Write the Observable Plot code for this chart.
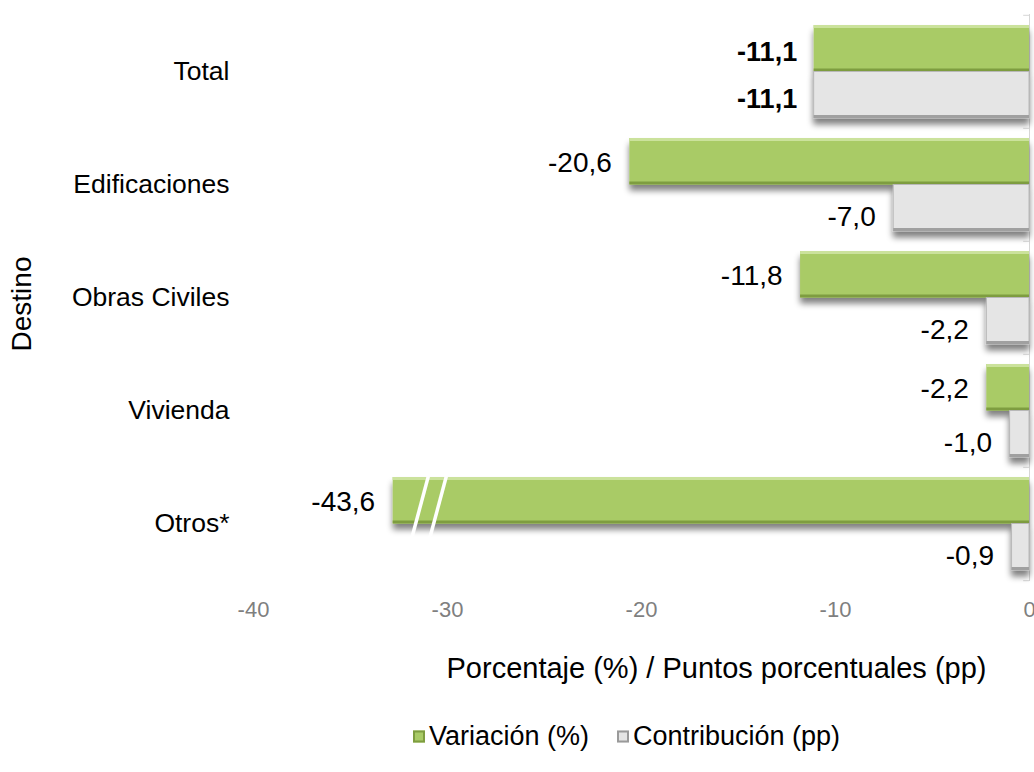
<!DOCTYPE html>
<html><head><meta charset="utf-8">
<script src="https://cdn.jsdelivr.net/npm/d3@7"></script>
<script src="https://cdn.jsdelivr.net/npm/@observablehq/plot@0.6"></script>
<style>
body{margin:0;background:#fff;font-family:'Liberation Sans',Arial,sans-serif;}
#chart svg{display:block;}
#legend{position:relative;height:72px;width:1034px;}
.item{position:absolute;top:36px;transform:translateY(-50%);display:flex;align-items:center;font-size:27px;color:#000;white-space:nowrap;}
.sw{width:12px;height:12px;margin-right:4px;box-sizing:border-box;}
</style></head><body>
<div id="chart"></div>
<div id="legend"></div>
<script>
// ---- data ----
const categories = ["Total", "Edificaciones", "Obras Civiles", "Vivienda", "Otros*"];
const variacion = [-11.1, -20.6, -11.8, -2.2, -43.6];      // Variación (%)
const contribucion = [-11.1, -7.0, -2.2, -1.0, -0.9];     // Contribución (pp)
const seriesNames = ["Variación (%)", "Contribución (pp)"];
const xTicks = [-40, -30, -20, -10, 0];
const axisBreak = -32.8;   // where the truncated (broken) bar is cut
const xLabel = "Porcentaje (%) / Puntos porcentuales (pp)";
const yLabel = "Destino";

// ---- styling ----
const G = "#A9CB66", Ghi = "#CBE29C", Glo = "#7E9D40";
const S = "#E5E5E5", Shi = "#FBFBFB", Slo = "#A0A0A0";
const half = 46.5, edge = 3;
const fmt = d => d.toFixed(1).replace(".", ",");

const rows = categories.map((cat, i) => ({
  cat, v: variacion[i], c: contribucion[i], vEnd: Math.max(variacion[i], axisBreak)
}));
const normal = rows.filter(r => r.cat !== "Total");
const bold = rows.filter(r => r.cat === "Total");

const plot = Plot.plot({
  width: 1034, height: 700,
  marginTop: 14, marginBottom: 119, marginLeft: 253, marginRight: 5,
  style: {fontFamily: "'Liberation Sans', Arial, sans-serif", background: "white", overflow: "visible"},
  x: {domain: [-40, 0]},
  y: {domain: categories, paddingInner: 0.18, paddingOuter: 0.09},
  marks: [
    Plot.ruleX([0], {stroke: "#D6D6D6"}),
    Plot.ruleY(categories, {y: d => d, x1: -0.3, x2: 0, dy: -56.7, stroke: "#D6D6D6"}),
    Plot.ruleY(categories.slice(-1), {y: d => d, x1: -0.3, x2: 0, dy: 56.7, stroke: "#D6D6D6"}),
    // Variación bars (top half of each band)
    Plot.barX(rows, {x1: "vEnd", x2: 0, y: "cat", insetBottom: half, fill: G}),
    Plot.barX(rows, {x1: "vEnd", x2: 0, y: "cat", insetBottom: 2 * half - edge, fill: Ghi}),
    Plot.barX(rows, {x1: "vEnd", x2: 0, y: "cat", insetTop: half - edge, insetBottom: half, fill: Glo}),
    // Contribución bars (bottom half)
    Plot.barX(rows, {x1: "c", x2: 0, y: "cat", insetTop: half, fill: S, stroke: "#B8B8B8", strokeWidth: 1}),
    Plot.barX(rows, {x1: "c", x2: 0, y: "cat", insetTop: half + 1, insetBottom: half - edge + 41, fill: Shi}),
    Plot.barX(rows, {x1: "c", x2: 0, y: "cat", insetTop: 2 * half - edge, fill: Slo}),
    // axes
    Plot.axisX(xTicks, {tickSize: 0, tickPadding: 20, fontSize: 22, color: "#7F7F7F", label: null, tickFormat: d => String(d)}),
    Plot.axisY({tickSize: 0, tickPadding: 24, fontSize: 26.5, color: "#000", label: null}),
    Plot.text([xLabel], {frameAnchor: "bottom", textAnchor: "middle", text: d => d, dx: 75, dy: 96, fontSize: 29, fill: "#000"}),
    Plot.text([yLabel], {frameAnchor: "left", textAnchor: "middle", text: d => d, dx: -231, dy: 6, rotate: -90, fontSize: 28, fill: "#000"}),
    // value labels
    Plot.text(normal, {x: "vEnd", y: "cat", text: d => fmt(d.v), textAnchor: "end", dx: -18, dy: -22, fontSize: 28, fill: "#000"}),
    Plot.text(normal, {x: "c", y: "cat", text: d => fmt(d.c), textAnchor: "end", dx: -18, dy: 32, fontSize: 28, fill: "#000"}),
    Plot.text(bold, {x: "vEnd", y: "cat", text: d => fmt(d.v), textAnchor: "end", dx: -17, dy: -20, fontSize: 27, fontWeight: "bold", fill: "#000"}),
    Plot.text(bold, {x: "c", y: "cat", text: d => fmt(d.c), textAnchor: "end", dx: -17, dy: 27, fontSize: 27, fontWeight: "bold", fill: "#000"})
  ]
});

// shadow filter for bars
const svg = d3.select(plot);
const defs = svg.insert("defs", ":first-child");
const f = defs.append("filter").attr("id", "barShadow").attr("x", "-5%").attr("y", "-10%").attr("width", "110%").attr("height", "130%");
f.append("feGaussianBlur").attr("in", "SourceAlpha").attr("stdDeviation", 3);
f.append("feOffset").attr("dx", 0).attr("dy", 6).attr("result", "o");
f.append("feComponentTransfer").call(c => c.append("feFuncA").attr("type", "linear").attr("slope", 0.5));
const m = f.append("feMerge"); m.append("feMergeNode"); m.append("feMergeNode").attr("in", "SourceGraphic");
svg.selectAll('g[aria-label="bar"]').each(function() {
  const fl = (this.getAttribute("fill") || "").toUpperCase();
  if (fl === G.toUpperCase() || fl === S.toUpperCase()) this.setAttribute("filter", "url(#barShadow)");
});

// axis-break marks on truncated bars, placed with the plot's own scales
const xs = plot.scale("x"), ys = plot.scale("y");
rows.filter(r => r.v < axisBreak).forEach(r => {
  const x0 = xs.apply(axisBreak), y0 = ys.apply(r.cat);
  [36, 54].forEach(o => {
    svg.append("line").attr("x1", x0 + o).attr("y1", y0 - 2).attr("x2", x0 + o - 17).attr("y2", y0 + half + 15)
      .attr("stroke", "white").attr("stroke-width", 3.5);
  });
});

document.getElementById("chart").appendChild(plot);

// legend
const legend = d3.select("#legend");
const sw = [{fill: G, border: Glo, left: 413}, {fill: S, border: "#9A9A9A", left: 617}];
seriesNames.forEach((name, i) => {
  const it = legend.append("div").attr("class", "item").style("left", sw[i].left + "px");
  it.append("div").attr("class", "sw").style("background", sw[i].fill).style("border", "2px solid " + sw[i].border);
  it.append("span").text(name);
});
</script>
</body></html>
